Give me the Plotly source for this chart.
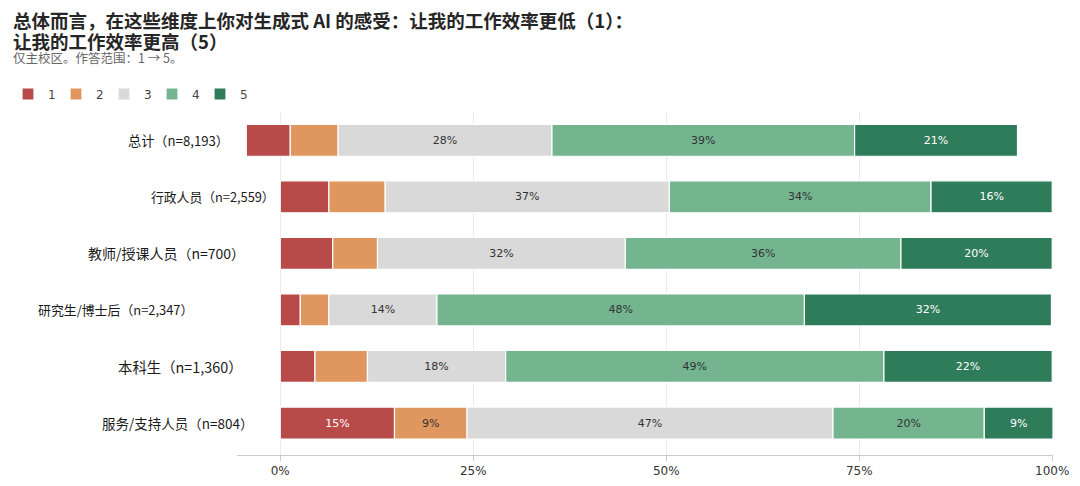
import plotly.graph_objects as go

# ---------------- data ----------------
categories = [
    "总计（n=8,193）",
    "行政人员（n=2,559）",
    "教师/授课人员（n=700）",
    "研究生/博士后（n=2,347）",
    "本科生（n=1,360）",
    "服务/支持人员（n=804）",
]
levels = ["1", "2", "3", "4", "5"]
share_1 = [5.7, 6.3, 6.8, 2.6, 4.5, 14.8]
share_2 = [6.2, 7.3, 5.8, 3.7, 6.8, 9.4]
share_3 = [27.7, 36.8, 32.1, 14.0, 17.9, 47.4]
share_4 = [39.2, 33.9, 35.7, 47.6, 49.0, 19.6]
share_5 = [21.1, 15.7, 19.6, 32.0, 21.8, 8.9]
row_offset = [-4.4, 0, 0, 0, 0, 0]
tick_values = [0, 25, 50, 75, 100]
tick_labels = ["0%", "25%", "50%", "75%", "100%"]
title_lines = ["总体而言，在这些维度上你对生成式 AI 的感受：让我的工作效率更低（1）：",
               "让我的工作效率更高（5）"]
subtitle = "仅主校区。作答范围：1 → 5。"

series = [share_1, share_2, share_3, share_4, share_5]

# ---------------- style ----------------
W, H = 1080, 486
OFF = 8  # page body margin in the browser
ML, MR, MT, MB = 229, 35, 104, 39
PW, PH = W - ML - MR, H - MT - MB


def px_x(px):
    """page pixel -> paper x"""
    return (px - OFF - ML) / PW


def px_y(py):
    """page pixel -> paper y"""
    return 1 + (MT - (py - OFF)) / PH


colors = ["#b94a4a", "#e0965f", "#d9d9d9", "#74b590", "#2f7c5a"]
text_colors = ["#ffffff", "#333333", "#333333", "#333333", "#ffffff"]
label_threshold = 8
label_xshift = [-6, 40, 10, -42, 8, 19]
label_size = [13.2, 12.8, 14, 12.9, 14.4, 13.5]

fig = go.Figure()
cum = list(row_offset)
for lvl, vals, col, tcol in zip(levels, series, colors, text_colors):
    texts = [f"{round(v)}%" if v >= label_threshold else "" for v in vals]
    fig.add_trace(go.Bar(
        name=lvl,
        y=categories,
        x=vals,
        base=list(cum),
        orientation="h",
        marker=dict(color=col, line=dict(color="white", width=1.2)),
        text=texts,
        textposition="inside",
        insidetextanchor="middle",
        textangle=0,
        constraintext="none",
        textfont=dict(family="DejaVu Sans", size=11, color=tcol),
        hoverinfo="skip",
    ))
    cum = [c + v for c, v in zip(cum, vals)]

# category labels (as annotations to mimic the reference layout)
for cat, xs, fs in zip(categories, label_xshift, label_size):
    fig.add_annotation(
        x=0, xref="paper", y=cat, yref="y",
        text=cat, showarrow=False, xanchor="right", yanchor="middle",
        xshift=xs,
        font=dict(family="Noto Sans CJK SC", size=fs, color="#1a1a1a"),
    )

# title lines
for line, cy in zip(title_lines, [19.5, 40.5]):
    fig.add_annotation(
        x=px_x(11), xref="paper", y=px_y(cy), yref="paper",
        text=f"<b>{line}</b>", showarrow=False,
        xanchor="left", yanchor="middle",
        font=dict(family="Noto Sans CJK SC", size=18.5, color="#262626"),
    )

# subtitle
fig.add_annotation(
    x=px_x(11), xref="paper", y=px_y(57.5), yref="paper",
    text=subtitle, showarrow=False,
    xanchor="left", yanchor="middle",
    font=dict(family="Noto Sans CJK SC", size=12.5, color="#666666"),
)

fig.update_layout(
    width=W, height=H,
    barmode="overlay",
    bargap=0.435,
    plot_bgcolor="white",
    paper_bgcolor="white",
    margin=dict(l=ML, r=MR, t=MT, b=MB, autoexpand=False),
    legend=dict(
        orientation="h",
        xref="container", yref="container",
        x=-5 / W, xanchor="left",
        y=1 - (94 - OFF) / H, yanchor="middle",
        font=dict(family="DejaVu Sans", size=12, color="#444444"),
        traceorder="normal",
        entrywidth=3, entrywidthmode="pixels",
        itemclick=False, itemdoubleclick=False,
    ),
    showlegend=True,
)

fig.update_xaxes(
    range=[-5.6, 100.1],
    tickvals=tick_values, ticktext=tick_labels,
    showgrid=True, gridcolor="#ebebeb", gridwidth=1,
    zeroline=False,
    showline=True, linecolor="#cccccc", linewidth=1,
    ticks="outside", ticklen=5, tickcolor="#cccccc",
    tickfont=dict(family="DejaVu Sans", size=12, color="#333333"),
    fixedrange=True,
)
fig.update_yaxes(
    categoryorder="array", categoryarray=categories,
    range=[5.565, -0.5],
    showticklabels=False, showgrid=False, zeroline=False, showline=False,
    fixedrange=True,
)

fig.write_html("out.html")
